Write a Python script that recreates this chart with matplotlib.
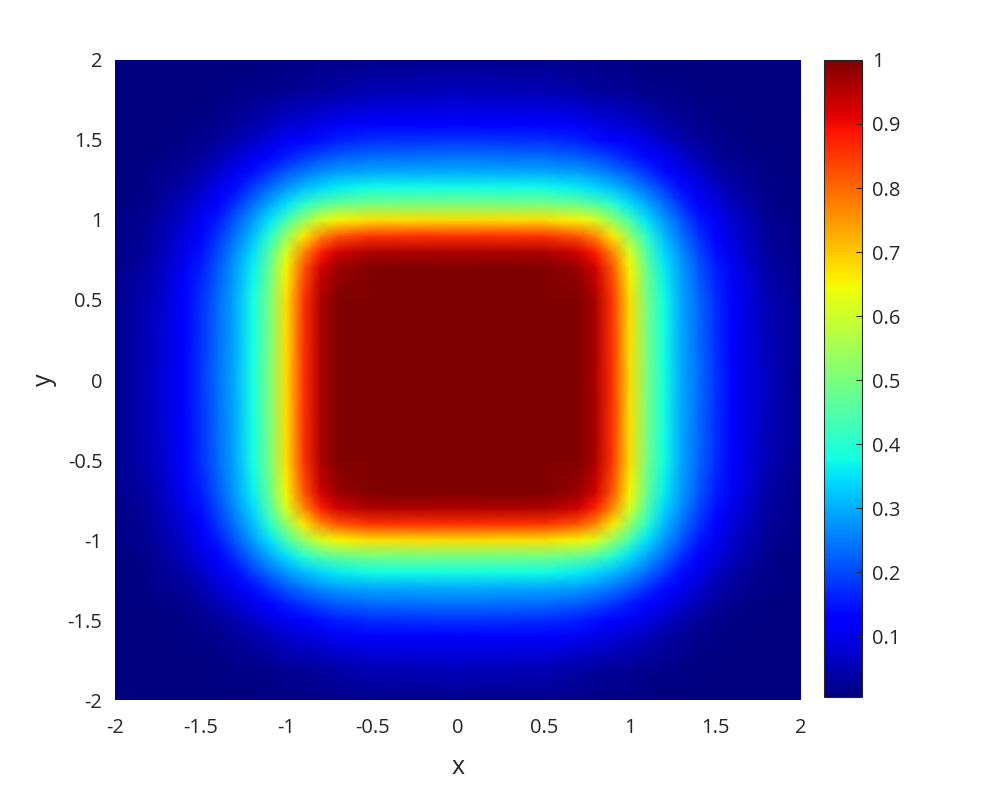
import numpy as np
import matplotlib
matplotlib.use("Agg")
import matplotlib.pyplot as plt

# grid coordinates of one quadrant (x >= 0, y >= 0)
q_coords = [0.0, 0.5, 0.7, 0.8, 0.9, 1.0, 1.1, 1.2, 1.3, 1.4, 1.5, 1.6, 1.8, 2.0]

# field values in that quadrant: one list per y row, columns follow q_coords in x
row_y00 = [1.000, 1.000, 1.000, 0.960, 0.860, 0.680, 0.500, 0.380, 0.300, 0.240, 0.180, 0.130, 0.060, 0.020]
row_y05 = [1.000, 1.000, 0.998, 0.958, 0.856, 0.677, 0.496, 0.376, 0.296, 0.233, 0.173, 0.122, 0.053, 0.018]
row_y07 = [1.000, 0.998, 0.975, 0.927, 0.820, 0.651, 0.477, 0.360, 0.282, 0.217, 0.157, 0.108, 0.043, 0.016]
row_y08 = [0.960, 0.958, 0.927, 0.879, 0.764, 0.614, 0.451, 0.343, 0.268, 0.202, 0.143, 0.098, 0.036, 0.014]
row_y09 = [0.860, 0.856, 0.820, 0.764, 0.669, 0.533, 0.403, 0.315, 0.245, 0.181, 0.125, 0.085, 0.031, 0.012]
row_y10 = [0.680, 0.677, 0.651, 0.614, 0.533, 0.439, 0.350, 0.280, 0.216, 0.156, 0.108, 0.072, 0.025, 0.010]
row_y11 = [0.500, 0.496, 0.477, 0.451, 0.403, 0.350, 0.293, 0.236, 0.179, 0.126, 0.087, 0.056, 0.019, 0.008]
row_y12 = [0.380, 0.376, 0.360, 0.343, 0.315, 0.280, 0.236, 0.188, 0.138, 0.099, 0.067, 0.040, 0.016, 0.007]
row_y13 = [0.300, 0.296, 0.282, 0.268, 0.245, 0.216, 0.179, 0.138, 0.104, 0.073, 0.046, 0.029, 0.013, 0.007]
row_y14 = [0.240, 0.233, 0.217, 0.202, 0.181, 0.156, 0.126, 0.099, 0.073, 0.048, 0.031, 0.020, 0.009, 0.006]
row_y15 = [0.180, 0.173, 0.157, 0.143, 0.125, 0.108, 0.087, 0.067, 0.046, 0.031, 0.020, 0.015, 0.007, 0.005]
row_y16 = [0.130, 0.122, 0.108, 0.098, 0.085, 0.072, 0.056, 0.040, 0.029, 0.020, 0.015, 0.011, 0.007, 0.005]
row_y18 = [0.060, 0.053, 0.043, 0.036, 0.031, 0.025, 0.019, 0.016, 0.013, 0.009, 0.007, 0.007, 0.005, 0.003]
row_y20 = [0.020, 0.018, 0.016, 0.014, 0.012, 0.010, 0.008, 0.007, 0.007, 0.006, 0.005, 0.005, 0.003, 0.002]

cbar_ticks = [0.1, 0.2, 0.3, 0.4, 0.5, 0.6, 0.7, 0.8, 0.9, 1.0]
cbar_labels = ["0.1", "0.2", "0.3", "0.4", "0.5", "0.6", "0.7", "0.8", "0.9", "1"]
axis_ticks = [-2, -1.5, -1, -0.5, 0, 0.5, 1, 1.5, 2]
axis_labels = ["-2", "-1.5", "-1", "-0.5", "0", "0.5", "1", "1.5", "2"]
vmin, vmax = 0.005, 1.0

# full field: the quadrant mirrored into the four quadrants
Q = np.array([row_y00, row_y05, row_y07, row_y08, row_y09, row_y10, row_y11,
              row_y12, row_y13, row_y14, row_y15, row_y16, row_y18, row_y20])
qc = np.array(q_coords)
n = len(qc)
coords = np.concatenate([-qc[:0:-1], qc])
idx = np.concatenate([np.arange(n - 1, 0, -1), np.arange(n)])
Z = Q[np.ix_(idx, idx)]
X, Y = np.meshgrid(coords, coords)

plt.rcParams['font.family'] = ['Open Sans', 'DejaVu Sans']
text_color = '#262626'

fig = plt.figure(figsize=(9.96, 7.87), dpi=100)
ax = fig.add_axes([0.1155, 0.1105, 0.6887, 0.8133])
mesh = ax.pcolormesh(X, Y, Z, shading='gouraud', cmap='jet', vmin=vmin, vmax=vmax,
                     rasterized=True)
ax.set_xlim(-2, 2)
ax.set_ylim(-2, 2)
ax.set_xticks(axis_ticks)
ax.set_xticklabels(axis_labels)
ax.set_yticks(axis_ticks)
ax.set_yticklabels(axis_labels)
ax.tick_params(axis='x', length=0, pad=13, labelsize=14.5, colors=text_color)
ax.tick_params(axis='y', length=0, pad=9, labelsize=14.5, colors=text_color)
for s in ax.spines.values():
    s.set_visible(False)
ax.set_xlabel('x', fontsize=18, color=text_color, labelpad=12)
ax.set_ylabel('y', fontsize=18, color=text_color, labelpad=8)

cax = fig.add_axes([0.8273, 0.1144, 0.0382, 0.8094])
cb = fig.colorbar(mesh, cax=cax)
cb.set_ticks(cbar_ticks)
cb.set_ticklabels(cbar_labels)
cb.ax.tick_params(direction='in', length=4, width=0.8, labelsize=14.5,
                  colors=text_color, pad=7)
cb.outline.set_edgecolor('#262626')
cb.outline.set_linewidth(0.8)

fig.savefig('out.png', dpi=100)
